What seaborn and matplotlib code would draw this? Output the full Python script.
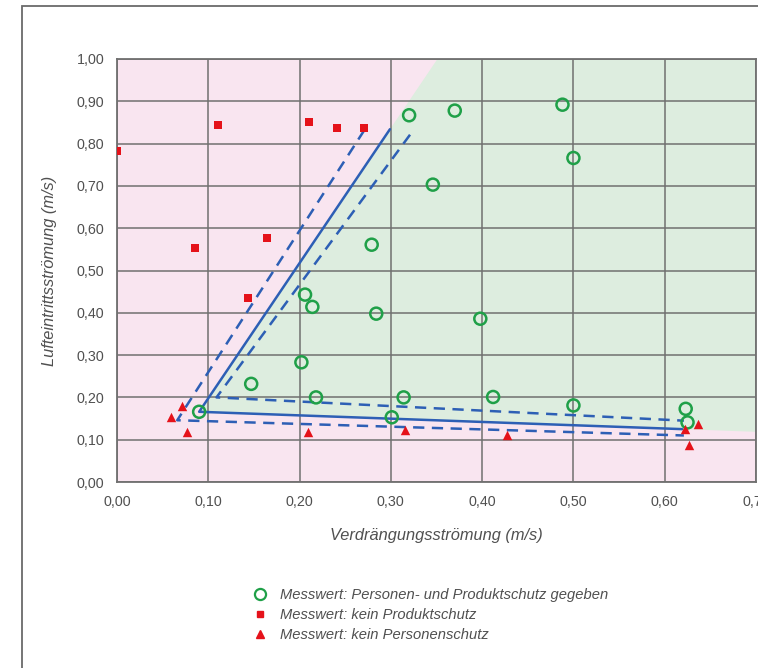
import matplotlib
matplotlib.use("Agg")
import matplotlib.pyplot as plt
import seaborn as sns
import pandas as pd
from matplotlib.patches import Rectangle
from matplotlib.lines import Line2D
from matplotlib.ticker import FuncFormatter

# ---------------- data ----------------
ok_x = [0.320, 0.370, 0.488, 0.500, 0.346, 0.279, 0.206, 0.214, 0.284, 0.398,
        0.202, 0.147, 0.218, 0.314, 0.412, 0.500, 0.090, 0.301, 0.623, 0.625]
ok_y = [0.867, 0.878, 0.892, 0.766, 0.703, 0.561, 0.443, 0.414, 0.398, 0.386,
        0.283, 0.232, 0.200, 0.200, 0.201, 0.181, 0.166, 0.153, 0.173, 0.141]

np_x = [0.000, 0.111, 0.085, 0.164, 0.210, 0.241, 0.271, 0.144]
np_y = [0.783, 0.845, 0.554, 0.576, 0.852, 0.838, 0.838, 0.435]

npers_x = [0.059, 0.071, 0.077, 0.209, 0.316, 0.427, 0.622, 0.636, 0.627]
npers_y = [0.154, 0.179, 0.118, 0.118, 0.124, 0.112, 0.126, 0.138, 0.088]

solid_x = [0.299, 0.090, 0.619]
solid_y = [0.834, 0.166, 0.125]
dash1_x = [0.271, 0.066, 0.621]
dash1_y = [0.832, 0.146, 0.110]
dash2_x = [0.321, 0.109, 0.621]
dash2_y = [0.821, 0.200, 0.145]

green_x = [0.351, 0.090, 0.700, 0.700]
green_y = [1.000, 0.166, 0.1186, 1.000]

x_ticks = [0.0, 0.1, 0.2, 0.3, 0.4, 0.5, 0.6, 0.7]
y_ticks = [0.0, 0.1, 0.2, 0.3, 0.4, 0.5, 0.6, 0.7, 0.8, 0.9, 1.0]

labels = ["Messwert: Personen- und Produktschutz gegeben",
          "Messwert: kein Produktschutz",
          "Messwert: kein Personenschutz"]

# ---------------- style ----------------
sns.set_theme(style="white")
plt.rcParams['font.family'] = ['Liberation Sans', 'DejaVu Sans']

W, H = 758, 668
fig = plt.figure(figsize=(W / 100, H / 100), dpi=100)
ax = fig.add_axes([117 / W, 1 - 482 / H, (756 - 117) / W, (482 - 59) / H])

pink = "#F9E5F0"
green_bg = "#DDEDDF"
grid_c = "#707070"
blue = "#2D5FB5"
green = "#1FA048"
red = "#E5121A"
txt = "#505050"

ax.set_facecolor(pink)
ax.fill(green_x, green_y, color=green_bg, lw=0, zorder=0)

ax.set_xlim(0, 0.70)
ax.set_ylim(0, 1.0)
ax.set_xticks(x_ticks)
ax.set_yticks(y_ticks)
ax.grid(True, color=grid_c, lw=1.1, zorder=1)
ax.set_axisbelow(True)
for s in ax.spines.values():
    s.set_color(grid_c)
    s.set_linewidth(1.3)

fmt = FuncFormatter(lambda v, p: f"{v:.2f}".replace(".", ","))
ax.xaxis.set_major_formatter(fmt)
ax.yaxis.set_major_formatter(fmt)
ax.tick_params(axis='both', labelsize=10.3, labelcolor=txt, length=0)
ax.tick_params(axis='y', pad=9)
ax.tick_params(axis='x', pad=9)

# lines
df_s = pd.DataFrame({"x": solid_x, "y": solid_y})
sns.lineplot(data=df_s, x="x", y="y", sort=False, estimator=None, color=blue,
             lw=1.8, ax=ax, zorder=3)
for dx, dy in [(dash1_x, dash1_y), (dash2_x, dash2_y)]:
    d = pd.DataFrame({"x": dx, "y": dy})
    sns.lineplot(data=d, x="x", y="y", sort=False, estimator=None, color=blue,
                 lw=1.8, ax=ax, zorder=3, linestyle=(0, (4.5, 3)))

# points
sns.scatterplot(x=ok_x, y=ok_y, ax=ax, marker="o", s=75, facecolor="none",
                edgecolor=green, linewidth=1.8, zorder=4)
sns.scatterplot(x=np_x, y=np_y, ax=ax, marker="s", s=32, color=red,
                edgecolor=red, linewidth=0, zorder=4)
sns.scatterplot(x=npers_x, y=npers_y, ax=ax, marker="^", s=46, color=red,
                edgecolor=red, linewidth=0, zorder=4)
ax.set_clip_on(False)

ax.set_xlabel("Verdrängungsströmung (m/s)", fontsize=11.8, style="italic",
              color=txt, labelpad=14)
ax.set_ylabel("Lufteintrittsströmung (m/s)", fontsize=11.8, style="italic",
              color=txt, labelpad=14)

# legend
handles = [
    Line2D([], [], marker="o", ls="none", markersize=8, markerfacecolor="none",
           markeredgecolor=green, markeredgewidth=1.6),
    Line2D([], [], marker="s", ls="none", markersize=5, color=red),
    Line2D([], [], marker="^", ls="none", markersize=6, color=red),
]
leg = fig.legend(handles, labels, loc="upper left",
                 bbox_to_anchor=(245 / W, 1 - 582 / H), frameon=False,
                 prop={"style": "italic", "size": 10.6}, labelspacing=0.42,
                 handletextpad=0.8, handlelength=1.2, borderaxespad=0)
for t in leg.get_texts():
    t.set_color(txt)

# outer frame (cropped at right and bottom)
fig.add_artist(Rectangle((22 / W, -0.1), 1.0, (H - 6) / H + 0.1,
                         transform=fig.transFigure, fill=False,
                         edgecolor="#6a6a6a", lw=1.3))

fig.savefig("out.png", dpi=100)
